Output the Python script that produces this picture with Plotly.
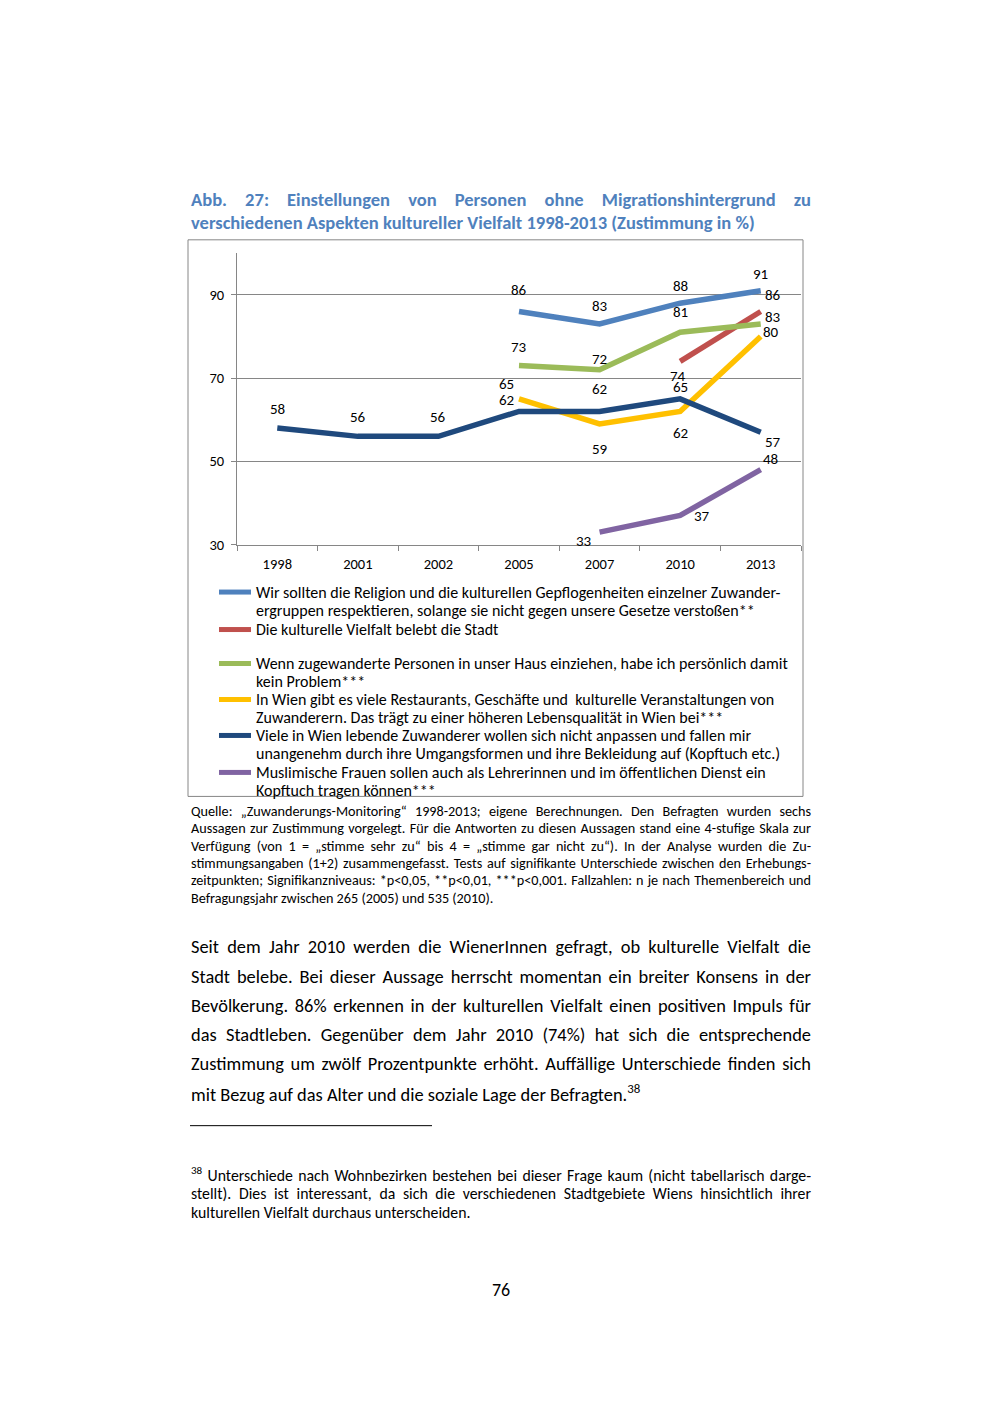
import json
import plotly.graph_objects as go

W, H = 1000, 1414
F = "Carlito, Lato, sans-serif"
GRAY = "#868686"
K = 1422 / 1414   # the captured page comes out slightly compressed vertically


def py(y):
    return 1 - y * K / H


def px(x):
    return x / W


# ---------------- data ----------------
years = ["1998", "2001", "2002", "2005", "2007", "2010", "2013"]
religion = [None, None, None, 86, 83, 88, 91]
vielfalt = [None, None, None, None, None, 74, 86]
haus = [None, None, None, 73, 72, 81, 83]
restaurants = [None, None, None, 65, 59, 62, 80]
anpassen = [58, 56, 56, 62, 62, 65, 57]
kopftuch = [None, None, None, None, 33, 37, 48]

legend_texts = [
    ["Wir sollten die Religion und die kulturellen Gepflogenheiten einzelner Zuwander-",
     "ergruppen respektieren, solange sie nicht gegen unsere Gesetze verstoßen**"],
    ["Die kulturelle Vielfalt belebt die Stadt"],
    ["Wenn zugewanderte Personen in unser Haus einziehen, habe ich persönlich damit",
     "kein Problem***"],
    ["In Wien gibt es viele Restaurants, Geschäfte und  kulturelle Veranstaltungen von",
     "Zuwanderern. Das trägt zu einer höheren Lebensqualität in Wien bei***"],
    ["Viele in Wien lebende Zuwanderer wollen sich nicht anpassen und fallen mir",
     "unangenehm durch ihre Umgangsformen und ihre Bekleidung auf (Kopftuch etc.)"],
    ["Muslimische Frauen sollen auch als Lehrerinnen und im öffentlichen Dienst ein",
     "Kopftuch tragen können***"],
]
series = [religion, vielfalt, haus, restaurants, anpassen, kopftuch]
colors = ["#4F81BD", "#C0504D", "#9BBB59", "#FFC000", "#1F497D", "#8064A2"]

# label offsets in screen px (dx right, dy down) per series / year
label_offsets = [
    [None, None, None, (0, -22), (0, -19), (0, -18), (0, -18)],
    [None, None, None, None, None, (-2, 14), (12, -17)],
    [None, None, None, (0, -20), (0, -12), (0, -21), (12, -8)],
    [None, None, None, (-13, -16), (0, 24), (0, 21), (10, -5)],
    [(0, -20), (0, -20), (0, -20), (-13, -12), (0, -23), (0, -13), (12, 9)],
    [None, None, None, None, (-16, 8), (22, 0), (10, -12)],
]
LABEL_DY = 1
# legend entry first-line positions (page px)
legend_y = [592.5, 630, 664, 700, 736, 773]
LEG_LINE_H = 18.2
TEXT_DY_LEG = 0

fig = go.Figure()
for leg, vals, col in zip(legend_texts, series, colors):
    fig.add_trace(go.Scatter(
        x=years, y=vals, mode="lines", name=" ".join(leg),
        line=dict(color=col, width=5.5), hoverinfo="skip", showlegend=False,
    ))

annotations = []
for vals, offs in zip(series, label_offsets):
    for i, (v, o) in enumerate(zip(vals, offs)):
        if v is None:
            continue
        annotations.append(dict(
            x=i, y=v, xref="x", yref="y", text=str(v), showarrow=False,
            xanchor="center", yanchor="middle",
            xshift=o[0], yshift=-(o[1] + LABEL_DY), font=dict(family=F, size=15, color="black"),
        ))

justify = []


def add_line(text, x, y, size, color="black", weight="normal", just_to=None, xanchor="left"):
    annotations.append(dict(
        x=px(x), y=py(y), xref="paper", yref="paper", text=text, showarrow=False,
        xanchor=xanchor, yanchor="middle", align="left", borderpad=0,
        font=dict(family=F, size=size, color=color, weight=weight),
    ))
    if just_to is not None:
        justify.append([len(annotations) - 1, just_to - x])


shapes = [
    dict(type="rect", xref="paper", yref="paper", x0=px(188), x1=px(803), y0=py(240), y1=py(797),
         line=dict(color=GRAY, width=1), fillcolor="rgba(0,0,0,0)", layer="below"),
    dict(type="line", xref="paper", yref="paper", x0=px(190), x1=px(432), y0=py(1126.5), y1=py(1126.5),
         line=dict(color="black", width=1)),
]

# custom legend (keeps the reference's tight line spacing)
for leg, col, y0 in zip(legend_texts, colors, legend_y):
    shapes.append(dict(type="line", xref="paper", yref="paper", x0=px(219), x1=px(251),
                       y0=py(y0), y1=py(y0), line=dict(color=col, width=5)))
    for k, t in enumerate(leg):
        add_line(t, 255, y0 + LEG_LINE_H * k + TEXT_DY_LEG, 16)

# title
TITLE_C = "#4F81BD"
add_line("Abb. 27: Einstellungen von Personen ohne Migrationshintergrund zu", 190, 200, 18.5, TITLE_C, "bold", 810)
add_line("verschiedenen Aspekten kultureller Vielfalt 1998-2013 (Zustimmung in %)", 190, 223, 18.5, TITLE_C, "bold")

# source note
quelle = [
    "Quelle: „Zuwanderungs-Monitoring“ 1998-2013; eigene Berechnungen. Den Befragten wurden sechs",
    "Aussagen zur Zustimmung vorgelegt. Für die Antworten zu diesen Aussagen stand eine 4-stufige Skala zur",
    "Verfügung (von 1 = „stimme sehr zu“ bis 4 = „stimme gar nicht zu“). In der Analyse wurden die Zu-",
    "stimmungsangaben (1+2) zusammengefasst. Tests auf signifikante Unterschiede zwischen den Erhebungs-",
    "zeitpunkten; Signifikanzniveaus: *p<0,05, **p<0,01, ***p<0,001. Fallzahlen: n je nach Themenbereich und",
    "Befragungsjahr zwischen 265 (2005) und 535 (2010).",
]
for i, t in enumerate(quelle):
    add_line(t, 190, 811.5 + 17.4 * i, 14.2, just_to=810 if i < len(quelle) - 1 else None)

para = [
    "Seit dem Jahr 2010 werden die WienerInnen gefragt, ob kulturelle Vielfalt die",
    "Stadt belebe. Bei dieser Aussage herrscht momentan ein breiter Konsens in der",
    "Bevölkerung. 86% erkennen in der kulturellen Vielfalt einen positiven Impuls für",
    "das Stadtleben. Gegenüber dem Jahr 2010 (74%) hat sich die entsprechende",
    "Zustimmung um zwölf Prozentpunkte erhöht. Auffällige Unterschiede finden sich",
    "mit Bezug auf das Alter und die soziale Lage der Befragten.<sup>38</sup>",
]
for i, t in enumerate(para):
    add_line(t, 190, 947.5 + 29.3 * i, 18.4, just_to=810 if i < len(para) - 1 else None)

foot = [
    "<sup>38</sup> Unterschiede nach Wohnbezirken bestehen bei dieser Frage kaum (nicht tabellarisch darge-",
    "stellt). Dies ist interessant, da sich die verschiedenen Stadtgebiete Wiens hinsichtlich ihrer",
    "kulturellen Vielfalt durchaus unterscheiden.",
]
for i, t in enumerate(foot):
    add_line(t, 190, 1175.3 + 19.0 * i, 15.8, just_to=810 if i < len(foot) - 1 else None)

add_line("76", 501, 1290.5, 18, xanchor="center")

fig.update_layout(
    width=W, height=H, autosize=False,
    margin=dict(l=0, r=0, t=0, b=0),
    paper_bgcolor="white", plot_bgcolor="white",
    font=dict(family=F, color="black"),
    showlegend=False,
    xaxis=dict(
        type="category", categoryorder="array", categoryarray=years,
        range=[-0.5, 6.5], domain=[px(237), px(801)],
        showline=True, linecolor=GRAY, linewidth=1,
        ticks="outside", tickson="boundaries", ticklen=5, tickcolor=GRAY,
        showgrid=False, zeroline=False, tickfont=dict(family=F, size=14.5, color="black"),
        ticklabelstandoff=6, fixedrange=True,
    ),
    yaxis=dict(
        range=[30, 100], domain=[py(545), py(253.4)],
        tickvals=[30, 50, 70, 90], showgrid=True, gridcolor=GRAY, gridwidth=1,
        showline=True, linecolor=GRAY, linewidth=1,
        ticks="outside", ticklen=5, tickcolor=GRAY, zeroline=False,
        tickfont=dict(family=F, size=14.5, color="black"), ticklabelstandoff=4,
        fixedrange=True,
    ),
    annotations=annotations,
    shapes=shapes,
)

post = """
(function(){
  var gd = document.getElementById('{plot_id}');
  document.body.style.margin = '0';
  var J = %s;
  function justify(){
    J.forEach(function(j){
      var t = gd.querySelector('.annotation[data-index="' + j[0] + '"] .annotation-text');
      if (!t) return;
      t.style.wordSpacing = '0px';
      var n = (t.textContent.match(/ /g) || []).length;
      var w = t.getComputedTextLength();
      if (n > 0) { t.style.wordSpacing = ((j[1] - w) / n) + 'px'; }
    });
  }
  justify();
  if (document.fonts && document.fonts.ready) { document.fonts.ready.then(justify); }
  setTimeout(justify, 100); setTimeout(justify, 500);
  if (gd && gd.on) { gd.on('plotly_afterplot', justify); }
})();
""" % json.dumps(justify)

fig.write_html("out.html", config={"displayModeBar": False, "staticPlot": True}, post_script=post)
